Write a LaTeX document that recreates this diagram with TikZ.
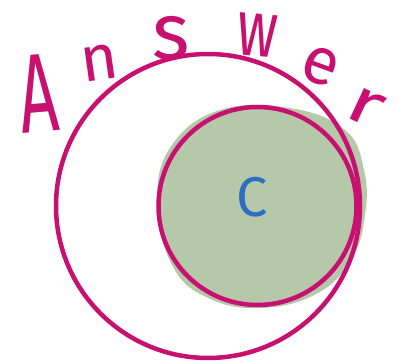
\documentclass[tikz,border=0pt]{standalone}
\usepackage{fontspec}
\setmainfont{Fira Sans}
\definecolor{ringpink}{RGB}{200,16,112}
\definecolor{sage}{RGB}{182,200,170}
\definecolor{inkblue}{RGB}{45,110,192}
\begin{document}
\begin{tikzpicture}[x=1pt, y=1pt,
  ring/.style={circle, draw=ringpink, line width=4.5pt, inner sep=0pt},
  letter/.style={text=ringpink, inner sep=0pt}]
  \useasboundingbox (0,0) rectangle (402,362);
  % Shaded region, a little off the inner circle as if coloured by hand
  \fill[sage] plot[smooth cycle, tension=0.7] coordinates {
    (157,162) (172,217) (220,252) (290,254) (345,232) (364,192)
    (365,147) (352,104) (318,69) (262,54) (208,64) (172,97)};
  % The two circles
  \node[ring, minimum size=304pt] (answer) at (208,156) {};
  \node[ring, minimum size=198pt] (setc) at (257.5,156) {};
  \node[text=inkblue, font=\fontsize{56}{56}\selectfont] (clabel) at (252,165) {C};
  % Title letters set round the top of the big circle
  \foreach \ch/\px/\py/\rot/\sz/\xs [count=\i] in
    {A/38/93/5/112/0.6, n/100/63/8/64/1, s/171/38/0/80/1,
     w/257/35/-5/80/0.7, e/320/66/-20/66/1, r/365/107/-25/64/1.4} {
    \node[letter, rotate=\rot, xscale=\xs, font=\fontsize{\sz}{\sz}\selectfont]
      (title-\i) at (\px,362-\py) {\ch};
  }
\end{tikzpicture}
\end{document}
